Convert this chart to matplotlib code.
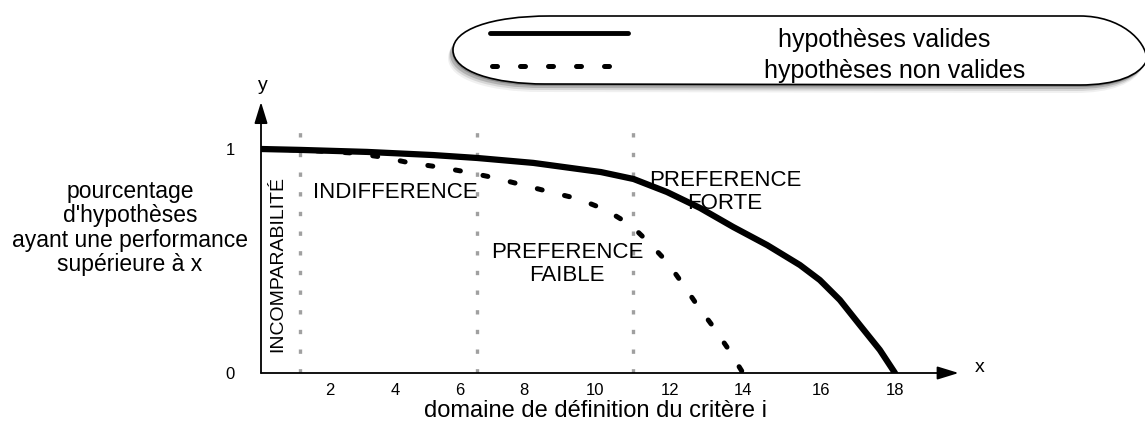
import numpy as np
import matplotlib.pyplot as plt
from matplotlib.path import Path
from matplotlib.patches import PathPatch
from matplotlib.lines import Line2D
from matplotlib.transforms import Affine2D

plt.rcParams['font.family'] = ['Liberation Sans', 'DejaVu Sans']

# ---- donnees ----
x_valides = [0, 1.13, 3.14, 5.17, 6.53, 8.26, 10.16, 11.03, 11.92, 12.82,
             13.73, 14.62, 15.46, 15.97, 16.51, 17.05, 17.59, 18]
y_valides = [1.0, 0.996, 0.987, 0.973, 0.96, 0.938, 0.897, 0.866, 0.808, 0.737,
             0.652, 0.571, 0.482, 0.415, 0.326, 0.214, 0.103, 0.0]

x_non_valides = [0, 1.13, 2.71, 3.6, 4.46, 5.32, 6.22, 7.09, 7.97, 8.74,
                 9.54, 10.29, 10.95, 11.42, 11.92, 12.33, 12.74, 13.15, 13.56, 14]
y_non_valides = [1.0, 0.996, 0.982, 0.964, 0.938, 0.920, 0.897, 0.871, 0.839, 0.808,
                 0.777, 0.728, 0.661, 0.585, 0.496, 0.402, 0.304, 0.214, 0.116, 0.0]

seuils = [1.13, 6.53, 11.01]          # limites des zones
x_ticks = [2, 4, 6, 8, 10, 12, 14, 16, 18]
y_ticks = [0, 1]
legende = ["hypothèses valides", "hypothèses non valides"]

# l'axe x du dessin original n'est pas regulier (trace a la main)
knot_vals = [0, 2, 4, 6, 8, 10, 12, 14, 16, 18, 20]
knot_pos = [261, 330, 395, 460, 524, 595, 670, 743, 821, 895, 969]

W, H = 1145, 421
fig = plt.figure(figsize=(W / 100, H / 100), dpi=100)

ax = fig.add_axes([261 / W, (H - 373) / H, (969 - 261) / W, (373 - 100) / H])
ax.set_xscale('function', functions=(lambda v: np.interp(v, knot_vals, knot_pos),
                                     lambda p: np.interp(p, knot_pos, knot_vals)))
ax.set_xlim(0, 20)
ax.set_ylim(0, 273 / 224)
for s in ax.spines.values():
    s.set_visible(False)
ax.patch.set_alpha(0)

ax.set_xticks(x_ticks)
ax.set_xticklabels([str(t) for t in x_ticks])
ax.set_yticks(y_ticks)
ax.set_yticklabels([str(t) for t in y_ticks])
ax.tick_params(axis='x', length=0, pad=7, labelsize=12)
ax.tick_params(axis='y', length=0, pad=19, labelsize=12)

# fleches des axes
ax.annotate('', xy=(19.72, 0), xytext=(0, 0),
            arrowprops=dict(arrowstyle='-|>,head_length=1.3,head_width=0.4',
                            mutation_scale=10, color='black', lw=1.3,
                            shrinkA=0, shrinkB=0))
ax.annotate('', xy=(0, 271 / 224), xytext=(0, 0),
            arrowprops=dict(arrowstyle='-|>,head_length=1.3,head_width=0.4',
                            mutation_scale=10, color='black', lw=1.3,
                            shrinkA=0, shrinkB=0))

# lignes verticales pointillees
for xs in seuils:
    ax.plot([xs, xs], [0, 1.105], color='#a0a0a0', lw=2.4,
            linestyle=(0, (1.3, 4.6)), zorder=2)

# courbes
ax.plot(x_valides, y_valides, color='black', lw=4.5,
        solid_capstyle='round', solid_joinstyle='round', zorder=4)
ax.plot(x_non_valides, y_non_valides, color='black', lw=3.6,
        linestyle=(0, (1.0, 4.6)), dash_capstyle='round', zorder=4)

# noms des zones
ax.text(0.49, 0.487, "INCOMPARABILITÉ", rotation=90, ha='center', va='center',
        fontsize=14, zorder=3)
ax.text(4.0, 0.808, "INDIFFERENCE", ha='center', va='center', fontsize=16, zorder=3)
ax.text(9.21, 0.487, "PREFERENCE\nFAIBLE", ha='center', va='center',
        fontsize=16, linespacing=1.15, zorder=3)
ax.text(13.51, 0.808, "PREFERENCE\nFORTE", ha='center', va='center',
        fontsize=16, linespacing=1.15, zorder=3)

# titres des axes
fig.text(130 / W, 1 - 228 / H,
         "pourcentage\nd'hypothèses\nayant une performance\nsupérieure à x",
         ha='center', va='center', fontsize=16.5, linespacing=1.07)
fig.text(595 / W, 1 - 417 / H, "domaine de définition du critère i",
         ha='center', va='baseline', fontsize=17)
fig.text(263 / W, 1 - 85 / H, "y", ha='center', va='center', fontsize=14)
fig.text(980 / W, 1 - 367 / H, "x", ha='center', va='center', fontsize=14)

# ---- legende en forme de pilule ----
px = Affine2D().scale(1 / W, -1 / H).translate(0, 1) + fig.transFigure
verts = [(550, 16), (1080, 16),
         (1120, 16), (1146, 40), (1147, 60),
         (1140, 76), (1115, 85), (1080, 85),
         (545, 84),
         (495, 84), (453, 72), (453, 50),
         (453, 30), (490, 16), (550, 16),
         (550, 16)]
codes = [Path.MOVETO, Path.LINETO,
         Path.CURVE4, Path.CURVE4, Path.CURVE4,
         Path.CURVE4, Path.CURVE4, Path.CURVE4,
         Path.LINETO,
         Path.CURVE4, Path.CURVE4, Path.CURVE4,
         Path.CURVE4, Path.CURVE4, Path.CURVE4,
         Path.CLOSEPOLY]
pill = Path(verts, codes)
for dx, dy, a in [(-5, 8, 0.08), (-4, 6, 0.15), (-3, 4, 0.25), (-1, 2, 0.35)]:
    sh = PathPatch(pill, transform=Affine2D().translate(dx, dy) + px,
                   facecolor='#444444', edgecolor='none', alpha=a)
    fig.patches.append(sh)
fig.patches.append(PathPatch(pill, transform=px, facecolor='white',
                             edgecolor='black', lw=1.2))

fig.lines.append(Line2D([490, 628], [33, 33], transform=px, color='black',
                        lw=3.5, solid_capstyle='round'))
fig.lines.append(Line2D([492, 617], [66, 66], transform=px, color='black',
                        lw=3.6, linestyle=(0, (1.0, 4.6)), dash_capstyle='round'))
fig.text(884 / W, 1 - 40 / H, legende[0], ha='center', va='center', fontsize=18)
fig.text(895 / W, 1 - 71 / H, legende[1], ha='center', va='center', fontsize=18)

fig.savefig("out.png", dpi=100)
